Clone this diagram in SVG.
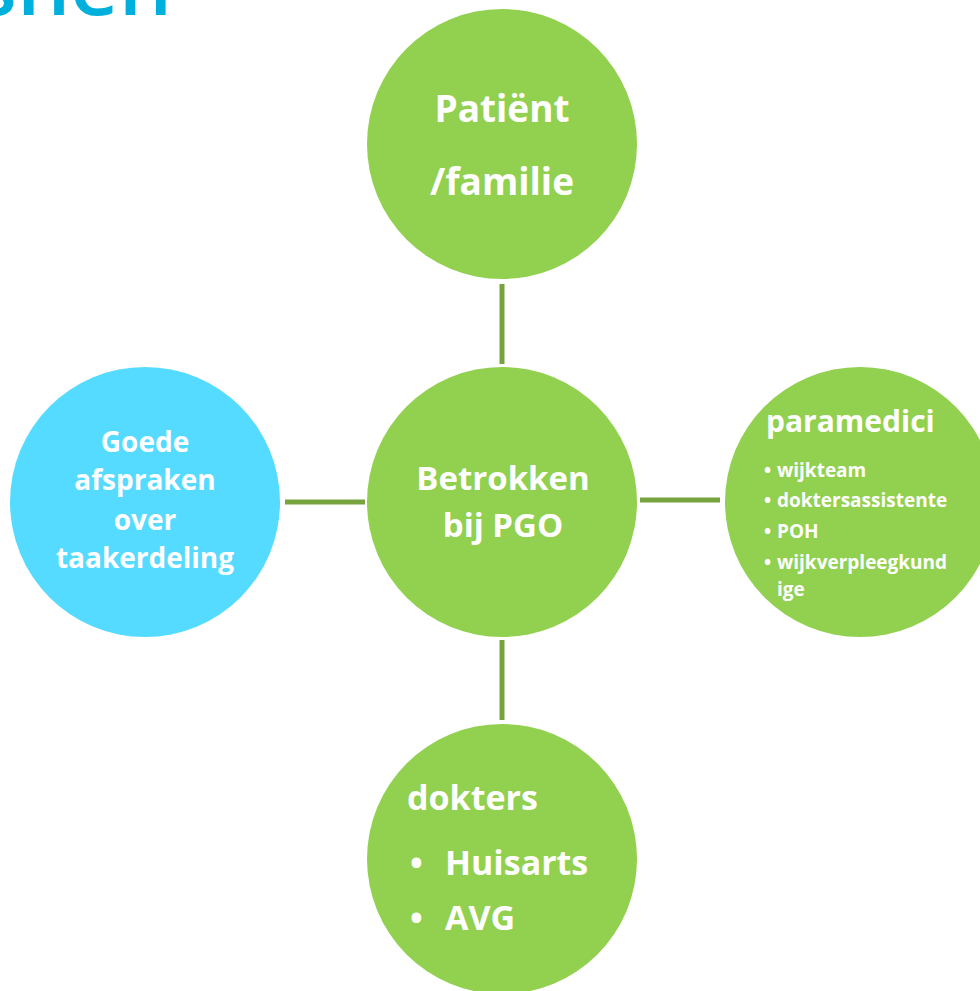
<svg xmlns="http://www.w3.org/2000/svg" width="980" height="991" viewBox="0 0 980 991">
<style>
.g{fill:#92d050}
.c{fill:#55dbff}
.t{fill:#ffffff;font-family:"Open Sans",Lato,sans-serif;font-weight:bold}
.m{text-anchor:middle}
.s{font-size:19px}
.conn line{stroke:#77a33f;stroke-width:5}
</style>
<rect width="980" height="991" fill="#ffffff"/>
<text x="172" y="15" text-anchor="end" font-family="'Open Sans',sans-serif" font-weight="600" font-size="84" fill="#00b0dc">shen</text>
<g id="connectors" class="conn">
<line x1="502" y1="284" x2="502" y2="364"/>
<line x1="285" y1="502" x2="365" y2="502"/>
<line x1="640" y1="500" x2="720" y2="500"/>
<line x1="502" y1="640" x2="502" y2="720"/>
</g>
<g id="patient">
<circle class="g" cx="502" cy="144" r="135"/>
<text class="t m" x="502" y="122" font-size="37">Patiënt</text>
<text class="t m" x="502" y="195" font-size="37">/familie</text>
</g>
<g id="center">
<circle class="g" cx="502" cy="502" r="135"/>
<text class="t m" x="503" y="490" font-size="33">Betrokken</text>
<text class="t m" x="503" y="537" font-size="33">bij PGO</text>
</g>
<g id="afspraken">
<circle class="c" cx="145" cy="502" r="135"/>
<text class="t m" x="145" y="452" font-size="28">Goede</text>
<text class="t m" x="145" y="490" font-size="28">afspraken</text>
<text class="t m" x="145" y="530" font-size="28">over</text>
<text class="t m" x="145" y="568" font-size="28">taakerdeling</text>
</g>
<g id="paramedici">
<circle class="g" cx="860" cy="502" r="135"/>
<text class="t" x="766" y="432" font-size="30">paramedici</text>
<text class="t s" x="764" y="477">•<tspan x="777">wijkteam</tspan></text>
<text class="t s" x="764" y="507">•<tspan x="777">doktersassistente</tspan></text>
<text class="t s" x="764" y="538">•<tspan x="777">POH</tspan></text>
<text class="t s" x="764" y="569">•<tspan x="777">wijkverpleegkund</tspan></text>
<text class="t s" x="777" y="596">ige</text>
</g>
<g id="dokters">
<circle class="g" cx="502" cy="859" r="135"/>
<text class="t" x="407" y="810" font-size="34">dokters</text>
<text class="t" x="410" y="875" font-size="34">•</text>
<text class="t" x="445" y="875" font-size="34">Huisarts</text>
<text class="t" x="410" y="930" font-size="34">•</text>
<text class="t" x="445" y="930" font-size="34">AVG</text>
</g>
</svg>
